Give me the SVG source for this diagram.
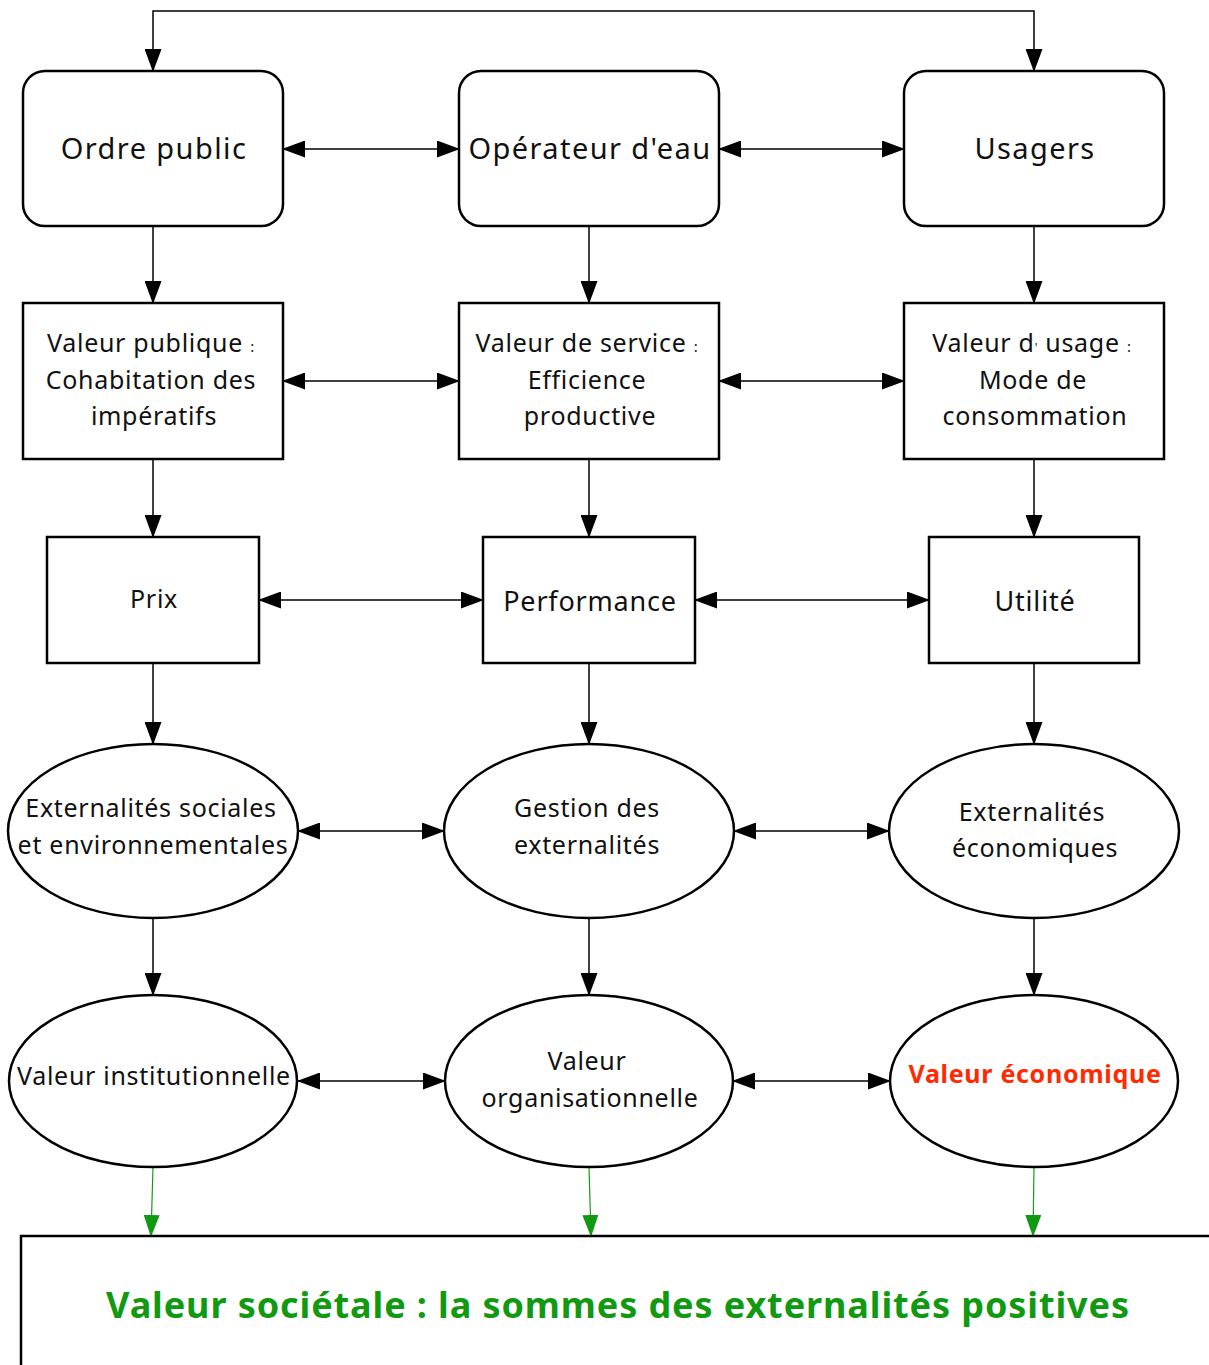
<svg xmlns="http://www.w3.org/2000/svg" width="1209" height="1365" viewBox="0 0 1209 1365">
<style>
.box{fill:#fff;stroke:#000;stroke-width:2.5}
.t{font-family:"Noto Sans","DejaVu Sans",sans-serif;fill:#111;text-anchor:middle}
.t28{font-size:29px;letter-spacing:1.4px}
.t25{font-size:25px;letter-spacing:0.7px}
.c{fill:none;stroke:#000;stroke-width:1.5}
.g{fill:none;stroke:#1a9a1a;stroke-width:1.2}
</style>
<defs>
<marker id="a" markerUnits="userSpaceOnUse" markerWidth="23" markerHeight="17" refX="22" refY="8.5" orient="auto-start-reverse"><path d="M0,0 L23,8.5 L0,17 z" fill="#000"/></marker>
<marker id="ag" markerUnits="userSpaceOnUse" markerWidth="22" markerHeight="16" refX="21" refY="8" orient="auto"><path d="M0,0 L22,8 L0,16 z" fill="#119911"/></marker>
</defs>
<g id="connectors">
<path class="c" d="M153,71 V11 H1034 V71" marker-start="url(#a)" marker-end="url(#a)"/>
<line class="c" x1="283" y1="149" x2="459" y2="149" marker-start="url(#a)" marker-end="url(#a)"/>
<line class="c" x1="719" y1="149" x2="904" y2="149" marker-start="url(#a)" marker-end="url(#a)"/>
<line class="c" x1="283" y1="381" x2="459" y2="381" marker-start="url(#a)" marker-end="url(#a)"/>
<line class="c" x1="719" y1="381" x2="904" y2="381" marker-start="url(#a)" marker-end="url(#a)"/>
<line class="c" x1="259" y1="600" x2="483" y2="600" marker-start="url(#a)" marker-end="url(#a)"/>
<line class="c" x1="695" y1="600" x2="929" y2="600" marker-start="url(#a)" marker-end="url(#a)"/>
<line class="c" x1="298" y1="831" x2="444" y2="831" marker-start="url(#a)" marker-end="url(#a)"/>
<line class="c" x1="734" y1="831" x2="889" y2="831" marker-start="url(#a)" marker-end="url(#a)"/>
<line class="c" x1="298" y1="1081" x2="445" y2="1081" marker-start="url(#a)" marker-end="url(#a)"/>
<line class="c" x1="733" y1="1081" x2="890" y2="1081" marker-start="url(#a)" marker-end="url(#a)"/>
<line class="c" x1="153" y1="226" x2="153" y2="303" marker-end="url(#a)"/>
<line class="c" x1="589" y1="226" x2="589" y2="303" marker-end="url(#a)"/>
<line class="c" x1="1034" y1="226" x2="1034" y2="303" marker-end="url(#a)"/>
<line class="c" x1="153" y1="459" x2="153" y2="537" marker-end="url(#a)"/>
<line class="c" x1="589" y1="459" x2="589" y2="537" marker-end="url(#a)"/>
<line class="c" x1="1034" y1="459" x2="1034" y2="537" marker-end="url(#a)"/>
<line class="c" x1="153" y1="663" x2="153" y2="744" marker-end="url(#a)"/>
<line class="c" x1="589" y1="663" x2="589" y2="744" marker-end="url(#a)"/>
<line class="c" x1="1034" y1="663" x2="1034" y2="744" marker-end="url(#a)"/>
<line class="c" x1="153" y1="918" x2="153" y2="995" marker-end="url(#a)"/>
<line class="c" x1="589" y1="918" x2="589" y2="995" marker-end="url(#a)"/>
<line class="c" x1="1034" y1="918" x2="1034" y2="995" marker-end="url(#a)"/>
<line class="g" x1="153" y1="1167" x2="151" y2="1236" marker-end="url(#ag)"/>
<line class="g" x1="589" y1="1167" x2="591" y2="1236" marker-end="url(#ag)"/>
<line class="g" x1="1034" y1="1167" x2="1033" y2="1236" marker-end="url(#ag)"/>
</g>
<g id="ordre-public"><rect class="box" x="23" y="71" width="260" height="155" rx="22"/><text class="t t28" x="154" y="159">Ordre public</text></g>
<g id="operateur"><rect class="box" x="459" y="71" width="260" height="155" rx="22"/><text class="t t28" x="590" y="159">Opérateur d'eau</text></g>
<g id="usagers"><rect class="box" x="904" y="71" width="260" height="155" rx="22"/><text class="t t28" x="1035" y="159">Usagers</text></g>
<g id="valeur-publique"><rect class="box" x="23" y="303" width="260" height="156"/><text class="t t25"><tspan x="151" y="352">Valeur publique <tspan font-size="15">:</tspan></tspan><tspan x="151" y="389">Cohabitation des</tspan><tspan x="154" y="425">impératifs</tspan></text></g>
<g id="valeur-service"><rect class="box" x="459" y="303" width="260" height="156"/><text class="t t25"><tspan x="587" y="352">Valeur de service <tspan font-size="15">:</tspan></tspan><tspan x="587" y="389">Efficience</tspan><tspan x="590" y="425">productive</tspan></text></g>
<g id="valeur-usage"><rect class="box" x="904" y="303" width="260" height="156"/><text class="t t25"><tspan x="1032" y="352">Valeur d<tspan font-size="12">'</tspan> usage <tspan font-size="15">:</tspan></tspan><tspan x="1033" y="389">Mode de</tspan><tspan x="1035" y="425">consommation</tspan></text></g>
<g id="prix"><rect class="box" x="47" y="537" width="212" height="126"/><text class="t t25" x="154" y="608">Prix</text></g>
<g id="performance"><rect class="box" x="483" y="537" width="212" height="126"/><text class="t" font-size="27" letter-spacing="0.8" x="590" y="611">Performance</text></g>
<g id="utilite"><rect class="box" x="929" y="537" width="210" height="126"/><text class="t" font-size="27" letter-spacing="0.8" x="1035" y="611">Utilité</text></g>
<g id="ext-sociales"><ellipse class="box" cx="153" cy="831" rx="145" ry="87"/><text class="t t25"><tspan x="151" y="817">Externalités sociales</tspan><tspan x="153" y="854">et environnementales</tspan></text></g>
<g id="gestion-ext"><ellipse class="box" cx="589" cy="831" rx="145" ry="87"/><text class="t t25"><tspan x="587" y="817">Gestion des</tspan><tspan x="587" y="854">externalités</tspan></text></g>
<g id="ext-eco"><ellipse class="box" cx="1034" cy="831" rx="145" ry="87"/><text class="t t25"><tspan x="1032" y="821">Externalités</tspan><tspan x="1035" y="857">économiques</tspan></text></g>
<g id="valeur-inst"><ellipse class="box" cx="153" cy="1081" rx="144" ry="86"/><text class="t t25" x="154" y="1085">Valeur institutionnelle</text></g>
<g id="valeur-org"><ellipse class="box" cx="589" cy="1081" rx="144" ry="86"/><text class="t t25"><tspan x="587" y="1070">Valeur</tspan><tspan x="590" y="1107">organisationnelle</tspan></text></g>
<g id="valeur-eco"><ellipse class="box" cx="1034" cy="1081" rx="144" ry="86"/><text class="t" font-size="25" font-weight="bold" letter-spacing="0.7" style="fill:#ff2a00" x="1035" y="1083">Valeur économique</text></g>
<g id="valeur-societale"><rect class="box" x="21" y="1236" width="1200" height="140"/><text class="t" font-size="36" font-weight="bold" letter-spacing="0.9" style="fill:#119911" x="618" y="1318">Valeur sociétale : la sommes des externalités positives</text></g>
</svg>
